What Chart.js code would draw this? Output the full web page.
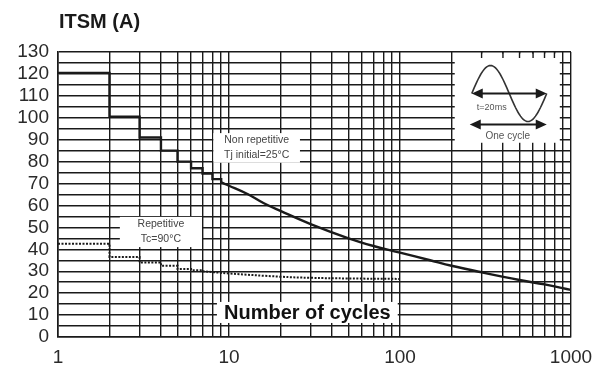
<!DOCTYPE html>
<html lang="en">
<head>
<meta charset="UTF-8">
<title>ITSM vs number of cycles</title>
<script src="https://cdn.jsdelivr.net/npm/chart.js"></script>
<style>
  body { margin: 0; padding: 0; background: #fff; }
  .wrap { width: 603px; height: 369px; position: relative; }
</style>
</head>
<body>
<div class="wrap"><canvas id="graph"></canvas></div>
<script>
// x grid / tick positions (cycles, log axis)
const xTicks = [1,2,3,4,5,6,7,8,9,10,20,30,40,50,60,70,80,90,100,200,300,400,500,600,700,800,900,1000];
const xLabels = [1, 10, 100, 1000];
// y grid every 5 A, labels every 10 A
const yTicks = [0,5,10,15,20,25,30,35,40,45,50,55,60,65,70,75,80,85,90,95,100,105,110,115,120,125,130];

// non repetitive, Tj initial = 25°C  (stepped part, then smooth part)
const nonRepStepX = [1, 2, 3, 4, 5, 6, 7, 8, 9];
const nonRepStepY = [120.5, 100.5, 91, 85, 80, 77, 74.5, 72, 70.5];
const nonRepCurveX = [9, 10, 13, 16, 20, 30, 50, 70, 100, 150, 200, 300, 500, 700, 1000];
const nonRepCurveY = [70.5, 69, 65, 61, 57.5, 51.5, 45, 41.5, 38.5, 35, 32.5, 29.5, 26, 24, 21.5];

// repetitive, Tc = 90°C
const repStepX = [1, 2, 3, 4, 5, 6, 7];
const repStepY = [42.5, 36.5, 34, 32.5, 31, 30.5, 30];
const repCurveX = [7, 10, 20, 30, 50, 100];
const repCurveY = [30, 29, 27.5, 27, 26.7, 26.5];

const pts = (xs, ys) => xs.map((x, i) => ({ x: x, y: ys[i] }));
const ink = '#1a1a1a';
const FONT = '"Liberation Sans", Arial, sans-serif';

const solid = { borderColor: ink, borderWidth: 2.4, pointRadius: 0, fill: false };
const dotted = { borderColor: ink, borderWidth: 2, borderDash: [2, 1.5], pointRadius: 0, fill: false };

function labelBox(ctx, x0, y0, x1, y1, lines, font, lh) {
  ctx.fillStyle = '#fff';
  ctx.fillRect(x0, y0, x1 - x0, y1 - y0);
  ctx.fillStyle = '#444';
  ctx.font = font;
  ctx.textAlign = 'center';
  ctx.textBaseline = 'middle';
  const cx = (x0 + x1) / 2, cy = (y0 + y1) / 2;
  lines.forEach((t, i) => ctx.fillText(t, cx, cy + (i - (lines.length - 1) / 2) * lh));
}

function arrowHead(ctx, x, y, dir) {
  ctx.beginPath();
  ctx.moveTo(x, y);
  ctx.lineTo(x - dir * 11, y - 5);
  ctx.lineTo(x - dir * 11, y + 5);
  ctx.closePath();
  ctx.fill();
}

const decor = {
  id: 'decor',
  beforeDatasetsDraw(chart) {
    const { ctx, chartArea: a, scales: { x, y } } = chart;
    ctx.save();
    // inset with one sine cycle
    const bx0 = x.getPixelForValue(209), bx1 = x.getPixelForValue(860);
    const by0 = a.top + 1.5, by1 = y.getPixelForValue(88.6);
    ctx.fillStyle = '#fff';
    ctx.fillRect(bx0, by0, bx1 - bx0, by1 - by0);
    ctx.strokeStyle = ink;
    ctx.lineWidth = 1.4;
    [300, 400, 500, 600, 700, 800].forEach(v => {
      const px = x.getPixelForValue(v);
      ctx.beginPath(); ctx.moveTo(px, a.top); ctx.lineTo(px, a.top + 6); ctx.stroke();
    });
    const sx0 = bx0 + 17, sx1 = bx0 + 92, cy = by0 + 40, amp = 28;
    ctx.strokeStyle = '#333';
    ctx.lineWidth = 1.6;
    ctx.beginPath();
    for (let i = 0; i <= 60; i++) {
      const t = i / 60;
      const px = sx0 + (sx1 - sx0) * t, py = cy - amp * Math.sin(2 * Math.PI * t);
      if (i === 0) ctx.moveTo(px, py); else ctx.lineTo(px, py);
    }
    ctx.stroke();
    ctx.strokeStyle = ink; ctx.fillStyle = ink; ctx.lineWidth = 2;
    const ay1 = cy, ay2 = cy + 31;
    [[sx0, sx1, ay1], [sx0 - 2, sx1, ay2]].forEach(([l, r, yy]) => {
      ctx.beginPath(); ctx.moveTo(l + 6, yy); ctx.lineTo(r - 6, yy); ctx.stroke();
      arrowHead(ctx, l, yy, -1);
      arrowHead(ctx, r, yy, 1);
    });
    ctx.fillStyle = '#555';
    ctx.font = '9px ' + FONT;
    ctx.textAlign = 'center'; ctx.textBaseline = 'middle';
    ctx.fillText('t=20ms', sx0 + 20, ay1 + 14);
    ctx.font = '10px ' + FONT;
    ctx.fillText('One cycle', sx0 + 36, ay2 + 12);

    // text boxes
    labelBox(ctx, x.getPixelForValue(8.1), y.getPixelForValue(93), x.getPixelForValue(26), y.getPixelForValue(79.5),
      ['Non repetitive', 'Tj initial=25°C'], '10.5px ' + FONT, 15);
    labelBox(ctx, x.getPixelForValue(2.3), y.getPixelForValue(54.8), x.getPixelForValue(6.95), y.getPixelForValue(41),
      ['Repetitive', 'Tc=90°C'], '10.5px ' + FONT, 15);
    ctx.fillStyle = '#fff';
    const nx0 = x.getPixelForValue(8.5), nx1 = x.getPixelForValue(97);
    const ny0 = y.getPixelForValue(16), ny1 = y.getPixelForValue(6.4);
    ctx.fillRect(nx0, ny0, nx1 - nx0, ny1 - ny0);
    ctx.fillStyle = '#111';
    ctx.font = 'bold 20px ' + FONT;
    ctx.fillText('Number of cycles', (nx0 + nx1) / 2, (ny0 + ny1) / 2 + 1);
    ctx.restore();
  },
  afterDraw(chart) {
    const { ctx, chartArea: a } = chart;
    ctx.save();
    ctx.fillStyle = '#1a1a1a';
    ctx.font = 'bold 20px ' + FONT;
    ctx.textAlign = 'left'; ctx.textBaseline = 'middle';
    ctx.fillText('ITSM (A)', a.left + 1, 22);
    ctx.restore();
  }
};

new Chart(document.getElementById('graph'), {
  type: 'line',
  data: {
    datasets: [
      Object.assign({ data: pts(nonRepStepX, nonRepStepY), stepped: 'before' }, solid),
      Object.assign({ data: pts(nonRepCurveX, nonRepCurveY), tension: 0.4 }, solid),
      Object.assign({ data: pts(repStepX, repStepY), stepped: 'before' }, dotted),
      Object.assign({ data: pts(repCurveX, repCurveY), tension: 0.4 }, dotted)
    ]
  },
  options: {
    responsive: true,
    maintainAspectRatio: false,
    animation: false,
    layout: { padding: { top: 52, right: 32, left: 0, bottom: 0 } },
    plugins: { legend: { display: false }, tooltip: { enabled: false } },
    scales: {
      x: {
        type: 'logarithmic',
        min: 1, max: 1000,
        afterBuildTicks: s => { s.ticks = xTicks.map(v => ({ value: v })); },
        afterFit: s => { s.height = 32; },
        grid: { color: ink, lineWidth: 1.4, drawTicks: false },
        border: { color: ink, width: 1.6 },
        ticks: {
          autoSkip: false, maxRotation: 0, padding: 9,
          color: '#2a2a2a', font: { family: FONT, size: 19 },
          callback: v => xLabels.includes(v) ? String(v) : ''
        }
      },
      y: {
        min: 0, max: 130,
        afterBuildTicks: s => { s.ticks = yTicks.map(v => ({ value: v })); },
        afterFit: s => { s.width = 58; },
        grid: { color: ink, lineWidth: 1.4, drawTicks: false },
        border: { color: ink, width: 1.6 },
        ticks: {
          autoSkip: false, padding: 9,
          color: '#2a2a2a', font: { family: FONT, size: 19 },
          callback: v => v % 10 === 0 ? String(v) : ''
        }
      }
    }
  },
  plugins: [decor]
});
</script>
</body>
</html>
